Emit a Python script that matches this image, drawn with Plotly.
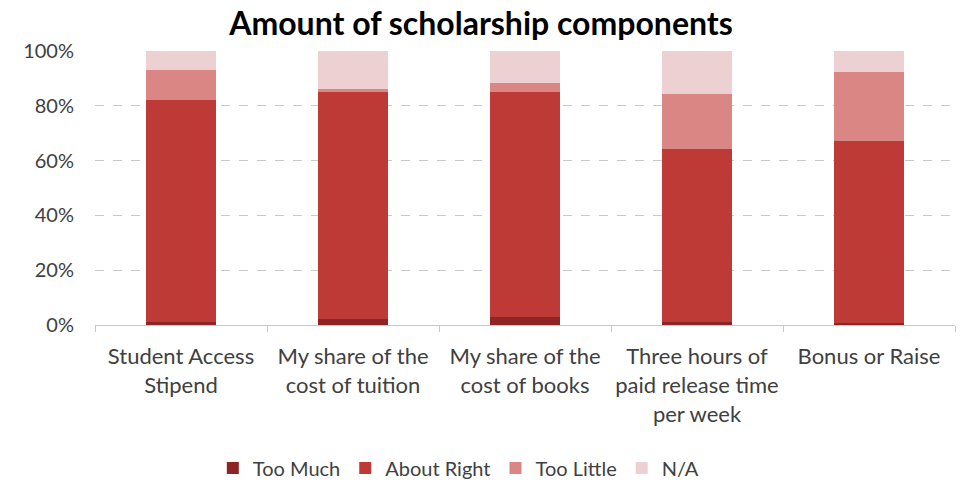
import plotly.graph_objects as go

categories = ["Student Access<br>Stipend", "My share of the<br>cost of tuition", "My share of the<br>cost of books",
              "Three hours of<br>paid release time<br>per week", "Bonus or Raise"]
too_much = [1.0, 2.2, 2.8, 1.2, 0.6]
about_right = [81.0, 82.8, 82.2, 63.2, 66.7]
too_little = [11.0, 1.3, 3.5, 19.8, 24.9]
na = [7.0, 13.7, 11.5, 15.8, 7.8]
series = [("Too Much", too_much, "#8E2524"), ("About Right", about_right, "#BD3A37"),
          ("Too Little", too_little, "#D98684"), ("N/A", na, "#EDD0D1")]

fig = go.Figure()
for name, vals, col in series:
    fig.add_trace(go.Bar(x=categories, y=vals, name=name, marker_color=col, marker_line_width=0))

font = "Lato, Open Sans, sans-serif"
W, H = 962, 483
fig.update_layout(
    barmode="stack", bargap=0.59,
    width=W, height=H,
    margin=dict(l=95, r=7, t=51, b=158, autoexpand=False),
    paper_bgcolor="white", plot_bgcolor="white",
    font=dict(family=font, size=20, color="#404040"),
    title=dict(text="<b>Amount of scholarship components</b>", x=0.5, xanchor="center",
               y=1 - 24 / H, yanchor="middle",
               font=dict(size=32, color="black", family=font)),
    legend=dict(orientation="h", x=0.137, xanchor="left", y=-143 / 274, yanchor="middle",
                font=dict(size=20, color="#404040"), traceorder="normal", itemwidth=30),
    showlegend=True,
)
fig.update_yaxes(range=[0, 100], tickvals=[0, 20, 40, 60, 80, 100], ticktext=["0%", "20%", "40%", "60%", "80%", "100%"],
                 showgrid=True, gridcolor="#C8C8C8", griddash="dash", gridwidth=1, zeroline=False,
                 tickfont=dict(size=20, color="#404040"), ticks="outside", ticklen=16, tickcolor="rgba(0,0,0,0)",
                 automargin=False)
fig.update_xaxes(showline=True, linecolor="#C8C8C8", linewidth=1, ticks="outside", tickson="boundaries",
                 ticklen=6, tickcolor="#C8C8C8", tickfont=dict(size=22, color="#404040"),
                 ticklabelstandoff=12, tickangle=0, automargin=False)

fig.write_html("out.html", config={"displayModeBar": False},
               post_script="document.body.style.margin='0';")
